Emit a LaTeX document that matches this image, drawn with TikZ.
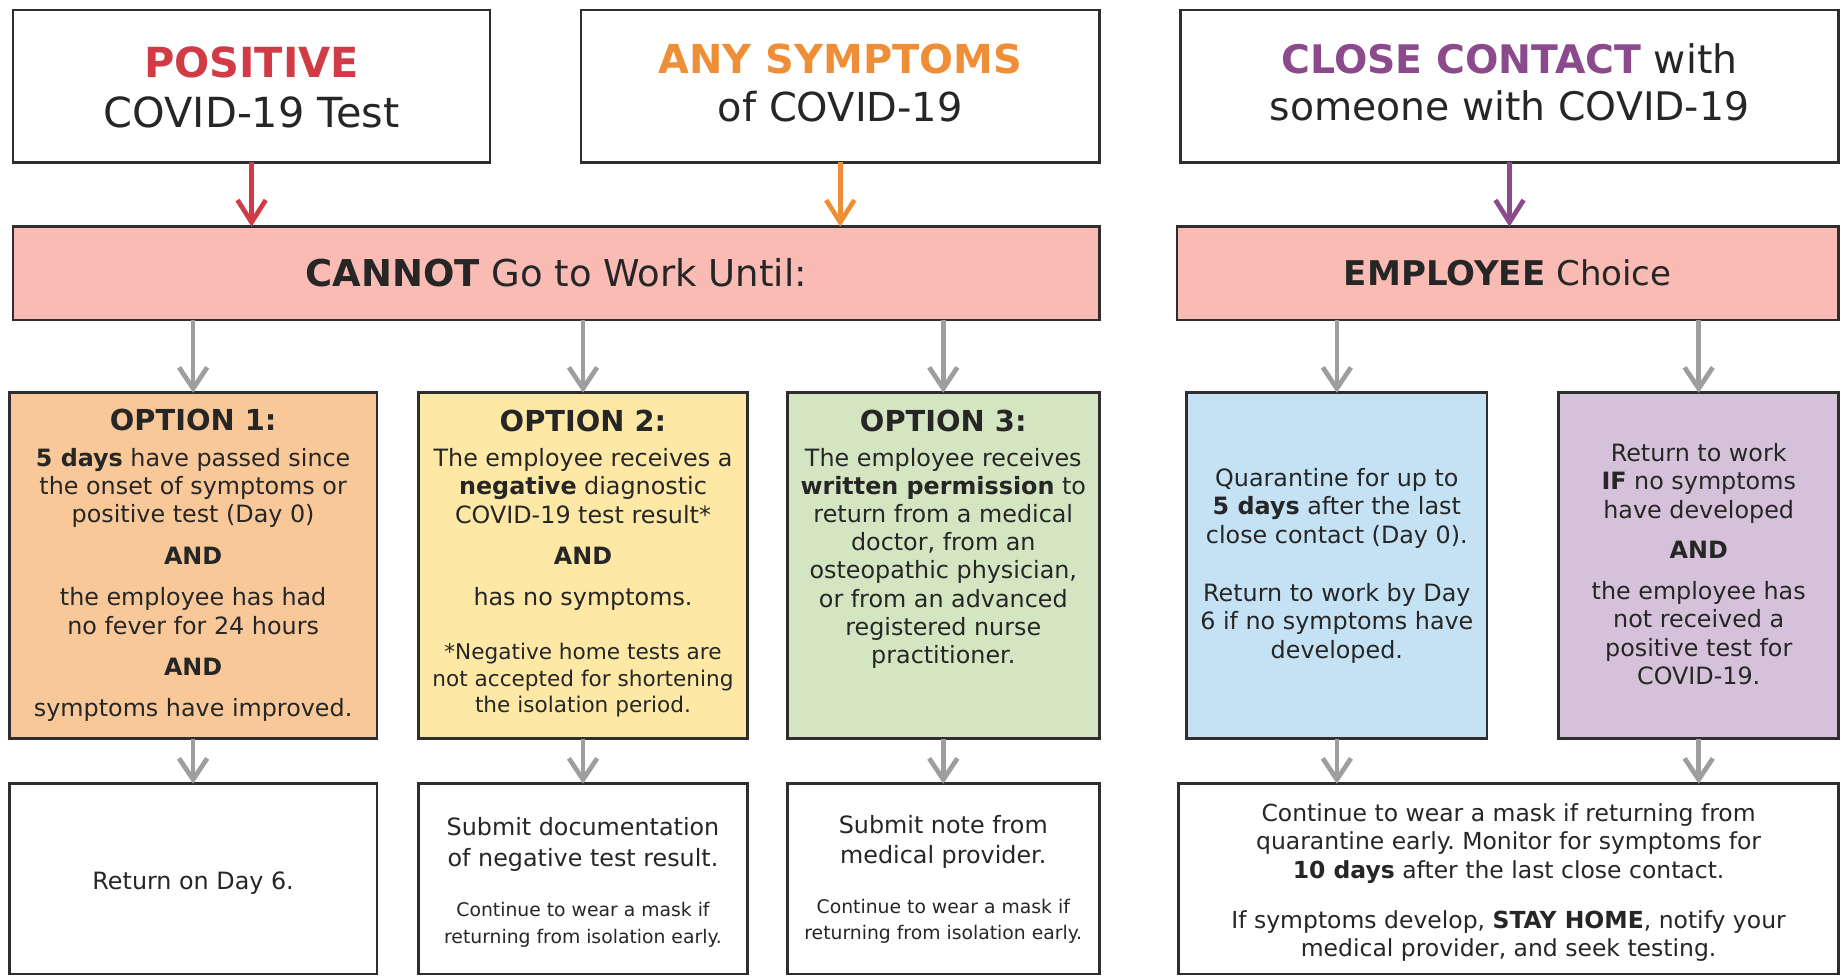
\documentclass[tikz,border=0pt]{standalone}
\usepackage{fontspec}
\setmainfont{DejaVu Sans}
\usetikzlibrary{arrows.meta}
\frenchspacing
\definecolor{ink}{HTML}{262626}
\definecolor{edge}{HTML}{2E2E2E}
\definecolor{redc}{HTML}{D03B45}
\definecolor{orangec}{HTML}{EE8F37}
\definecolor{purplec}{HTML}{8B4A8B}
\definecolor{barfill}{HTML}{F9BBB4}
\definecolor{optA}{HTML}{F8C898}
\definecolor{optB}{HTML}{FDE8A5}
\definecolor{optC}{HTML}{D3E6C1}
\definecolor{quarfill}{HTML}{C5E2F5}
\definecolor{purpfill}{HTML}{D6C1DA}
\definecolor{arrowgray}{HTML}{9E9E9E}
\newcommand\myfs[2]{\fontsize{#1pt}{#2pt}\selectfont}
\newcommand\ctext[1]{\parbox[t]{700pt}{\centering\frenchspacing #1}}
\begin{document}
\begin{tikzpicture}[x=1pt,y=-1pt,
  box/.style={draw=edge, line width=2.2pt, outer sep=0pt, inner sep=0pt},
  txt/.style={anchor=base, inner sep=0pt, text=ink},
  garrow/.style={draw=arrowgray, line width=4pt, -{Straight Barb[length=18pt,width=24pt]}},
  carrow/.style={line width=4pt, -{Straight Barb[length=19pt,width=24pt]}}
]
\useasboundingbox (0,0) rectangle (1568,831);
\fill[white] (0,0) rectangle (1568,831);

% top boxes
\node[box, fill=white, minimum width=406.4pt, minimum height=129.8pt] (pos) at (214.3,73.4) {};
\node[box, fill=white, minimum width=441.3pt, minimum height=129.8pt] (any) at (715.65,73.4) {};
\node[box, fill=white, minimum width=560.7pt, minimum height=129.8pt] (close) at (1285.65,73.4) {};
% bars
\node[box, fill=barfill, minimum width=925.2pt, minimum height=79.5pt] (cannot) at (473.7,232.85) {};
\node[box, fill=barfill, minimum width=563.6pt, minimum height=79.5pt] (employee) at (1284.2,232.85) {};
% option boxes
\node[box, fill=optA, minimum width=313pt, minimum height=294.5pt] (opt1) at (164.5,481.75) {};
\node[box, fill=optB, minimum width=280.3pt, minimum height=294.5pt] (opt2) at (496.55,481.75) {};
\node[box, fill=optC, minimum width=265.8pt, minimum height=294.5pt] (opt3) at (803.4,481.75) {};
\node[box, fill=quarfill, minimum width=255.8pt, minimum height=294.5pt] (quar) at (1138.6,481.75) {};
\node[box, fill=purpfill, minimum width=238.4pt, minimum height=294.5pt] (purp) at (1446.8,481.75) {};
% bottom boxes
\node[box, fill=white, minimum width=313pt, minimum height=162pt] (bot1) at (164.5,748.5) {};
\node[box, fill=white, minimum width=280.3pt, minimum height=162pt] (bot2) at (496.55,748.5) {};
\node[box, fill=white, minimum width=265.8pt, minimum height=162pt] (bot3) at (803.4,748.5) {};
\node[box, fill=white, minimum width=562.2pt, minimum height=162pt] (botR) at (1284.9,748.5) {};

% arrows
\draw[carrow, draw=redc] (pos.south) -- (pos.south |- cannot.north);
\draw[carrow, draw=orangec] (any.south) -- (any.south |- cannot.north);
\draw[carrow, draw=purplec] (close.south) -- (close.south |- employee.north);
\draw[garrow] (opt1.north |- cannot.south) -- (opt1.north);
\draw[garrow] (opt2.north |- cannot.south) -- (opt2.north);
\draw[garrow] (opt3.north |- cannot.south) -- (opt3.north);
\draw[garrow] (quar.north |- employee.south) -- (quar.north);
\draw[garrow] (purp.north |- employee.south) -- (purp.north);
\draw[garrow] (opt1.south) -- (bot1.north);
\draw[garrow] (opt2.south) -- (bot2.north);
\draw[garrow] (opt3.south) -- (bot3.north);
\draw[garrow] (quar.south) -- (quar.south |- botR.north);
\draw[garrow] (purp.south) -- (purp.south |- botR.north);

% texts
\node[txt] (tpos) at (214.3,65.9) {\ctext{\myfs{35.3}{42.6}\textbf{\color{redc}POSITIVE}\\COVID-19 Test}};
\node[txt] (tany) at (715.7,63) {\ctext{\myfs{34}{40.6}\textbf{\color{orangec}ANY SYMPTOMS}\\of COVID-19}};
\node[txt] (tclose) at (1285.6,63) {\ctext{\myfs{33.5}{39.8}\textbf{\color{purplec}CLOSE CONTACT} with\\someone with COVID-19}};
\node[txt] (tcannot) at (473.7,243.6) {\ctext{\myfs{31.5}{38}\textbf{CANNOT} Go to Work Until:}};
\node[txt] (temployee) at (1284.2,243.4) {\ctext{\myfs{29}{35}\textbf{EMPLOYEE} Choice}};

\node[txt] (h1) at (164.5,367) {\ctext{\myfs{24.6}{30}\textbf{OPTION 1:}}};
\node[txt] (h2) at (496.55,367.7) {\ctext{\myfs{24.6}{30}\textbf{OPTION 2:}}};
\node[txt] (h3) at (803.4,367.7) {\ctext{\myfs{24.6}{30}\textbf{OPTION 3:}}};

\node[txt] (b1) at (164.5,397) {\ctext{\myfs{20.3}{24.2}\textbf{5 days} have passed since\\the onset of symptoms or\\positive test (Day 0)\\[11pt]\textbf{AND}\\[11pt]the employee has had\\no fever for 24 hours\\[11pt]\textbf{AND}\\[11pt]symptoms have improved.}};
\node[txt] (b2) at (496.55,397.5) {\ctext{\myfs{20.3}{24}The employee receives a\\\textbf{negative} diagnostic\\COVID-19 test result*\\[11pt]\textbf{AND}\\[11pt]has no symptoms.}};
\node[txt] (f2) at (496.55,562) {\ctext{\myfs{18.4}{22.4}*Negative home tests are\\not accepted for shortening\\the isolation period.}};
\node[txt] (b3) at (803.4,397.5) {\ctext{\myfs{20.3}{23.9}The employee receives\\\textbf{written permission} to\\return from a medical\\doctor, from an\\osteopathic physician,\\or from an advanced\\registered nurse\\practitioner.}};
\node[txt] (bq) at (1138.6,414.5) {\ctext{\myfs{20.3}{24.1}Quarantine for up to\\\textbf{5 days} after the last\\close contact (Day 0).\\[25.6pt]Return to work by Day\\6 if no symptoms have\\developed.}};
\node[txt] (bp) at (1446.8,393.2) {\ctext{\myfs{20.3}{24.1}Return to work\\\textbf{IF} no symptoms\\have developed\\[10.5pt]\textbf{AND}\\[10.5pt]the employee has\\not received a\\positive test for\\COVID-19.}};

\node[txt] (r1) at (164.5,757.5) {\ctext{\myfs{20.3}{24}Return on Day 6.}};
\node[txt] (r2) at (496.55,712) {\ctext{\myfs{20.3}{26.2}Submit documentation\\of negative test result.}};
\node[txt] (s2) at (496.55,780.8) {\ctext{\myfs{16}{22.5}Continue to wear a mask if\\returning from isolation early.}};
\node[txt] (r3) at (803.4,709.8) {\ctext{\myfs{20.3}{25.5}Submit note from\\medical provider.}};
\node[txt] (s3) at (803.4,778) {\ctext{\myfs{16}{21.8}Continue to wear a mask if\\returning from isolation early.}};
\node[txt] (rR) at (1284.9,699.9) {\ctext{\myfs{20}{24}Continue to wear a mask if returning from\\quarantine early. Monitor for symptoms for\\\textbf{10 days} after the last close contact.\\[18.8pt]If symptoms develop, \textbf{STAY HOME}, notify your\\medical provider, and seek testing.}};
\end{tikzpicture}
\end{document}
